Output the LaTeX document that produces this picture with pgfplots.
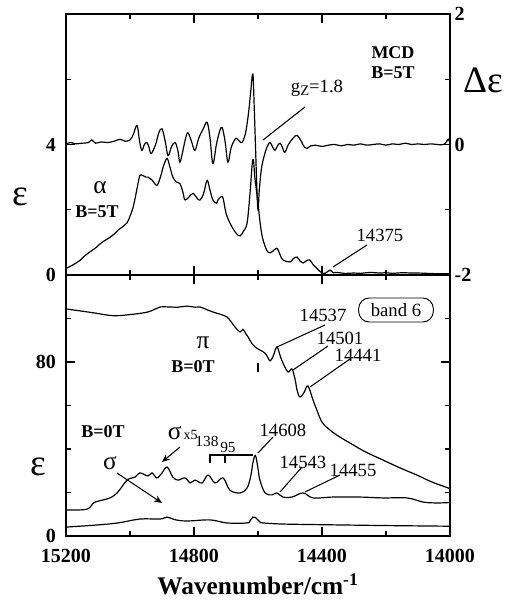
\documentclass[border=0pt]{standalone}
\usepackage{fontspec}
\setmainfont{Liberation Serif}
\usepackage{pgfplots}
\pgfplotsset{compat=1.18}
\usetikzlibrary{arrows.meta}

\newcommand{\fs}[1]{\fontsize{#1}{#1}\selectfont}

\pgfplotsset{
  common/.style={
    scale only axis, width=288pt, height=195.75pt,
    x dir=reverse, xmin=14000, xmax=15200,
    scaled x ticks=false, scaled y ticks=false,
    tick align=inside,
    major tick length=7pt, minor tick length=4pt,
    every tick/.style={black, line width=1.1pt},
    every minor tick/.style={black, line width=1.1pt},
    axis line style={line width=1.4pt},
    tick label style={font=\fs{15}\bfseries},
    xtick={14000,14400,14800,15200}, minor xtick={14200,14600,15000},
    clip=false,
  },
  curve/.style={black, line width=0.9pt, no marks, smooth, tension=0.6},
}

\begin{document}
\begin{tikzpicture}
\useasboundingbox (-49.5pt,-244.5pt) rectangle (330pt,206.25pt);

% ---------- top panel (alpha, left scale) ----------
\begin{axis}[common, at={(0,0)}, anchor=south west,
  ymin=0, ymax=8, ytick={0,4}, minor ytick={2,6},
  yticklabels={\textbf{0},\textbf{4}},
  ytick pos=left, xtick pos=both, xticklabels={},
  yticklabel style={xshift=-4pt}]
\addplot[curve] table[row sep=\\] {
15200 0.2\\ 15180 0.3\\ 15156 0.45\\ 15140 0.6\\ 15119 0.75\\ 15105 0.85\\
15094 0.95\\ 15080 1.05\\ 15063 1.15\\ 15050 1.25\\ 15038 1.37\\ 15020 1.5\\
15009 1.6\\ 15000 1.8\\ 14991 2.05\\ 14983 2.4\\ 14975 2.8\\ 14969 3.05\\
14960 3.05\\ 14950 3.0\\ 14944 3.0\\ 14930 2.9\\ 14916 2.75\\ 14905 3.0\\
14895 3.35\\ 14884 3.57\\ 14875 3.3\\ 14866 3.0\\ 14855 2.85\\ 14844 2.8\\
14835 2.55\\ 14828 2.3\\ 14815 2.4\\ 14803 2.5\\ 14790 2.35\\ 14781 2.3\\
14770 2.5\\ 14759 2.9\\ 14750 2.6\\ 14741 2.3\\ 14730 2.2\\ 14725 2.3\\
14715 2.4\\ 14709 2.35\\ 14700 1.9\\ 14688 1.6\\ 14670 1.3\\ 14656 1.2\\
14645 1.35\\ 14634 1.6\\ 14625 2.5\\ 14618 3.4\\ 14614 3.5\\ 14610 3.0\\
14605 2.6\\ 14600 2.2\\ 14592 1.5\\ 14584 1.07\\ 14569 0.7\\ 14555 0.72\\
14541 0.82\\ 14530 0.6\\ 14522 0.46\\ 14500 0.4\\ 14490 0.5\\ 14478 0.55\\
14468 0.42\\ 14459 0.37\\ 14448 0.44\\ 14438 0.46\\ 14428 0.32\\ 14416 0.2\\
14400 0.06\\ 14390 0.05\\ 14375 0.15\\ 14365 0.07\\ 14353 0.08\\ 14330 0.05\\
14300 0.06\\ 14280 0.05\\ 14250 0.08\\ 14220 0.06\\ 14200 0.07\\ 14180 0.05\\
14150 0.07\\ 14120 0.06\\ 14100 0.06\\ 14070 0.05\\ 14040 0.04\\ 14000 0.04\\
};
\end{axis}

% ---------- top panel (MCD, right scale) ----------
\begin{axis}[common, at={(0,0)}, anchor=south west,
  ymin=-2, ymax=2, ytick={-2,0,2}, minor ytick={-1,1},
  yticklabels={\textbf{-2},\textbf{0},\textbf{2}},
  axis y line*=right, axis x line=none]
\addplot[curve] table[row sep=\\] {
15200 0.01\\ 15185 0.03\\ 15170 0.01\\ 15150 0.02\\ 15130 0.03\\ 15119 0.07\\
15108 0.02\\ 15090 0.04\\ 15070 0.03\\ 15050 0.05\\ 15031 0.08\\ 15015 0.05\\
15000 0.07\\ 14990 0.15\\ 14978 0.29\\ 14970 0.05\\ 14963 -0.09\\ 14955 0.0\\
14947 0.03\\ 14940 -0.05\\ 14934 -0.14\\ 14920 0.0\\ 14910 0.18\\ 14900 0.24\\
14890 0.05\\ 14881 -0.17\\ 14870 -0.03\\ 14859 0.03\\ 14850 -0.1\\ 14844 -0.27\\
14835 -0.1\\ 14827 0.08\\ 14819 0.18\\ 14808 0.05\\ 14797 -0.09\\ 14785 0.1\\
14770 0.25\\ 14759 0.34\\ 14750 0.1\\ 14741 -0.29\\ 14730 0.0\\ 14720 0.2\\
14712 0.26\\ 14703 0.05\\ 14694 -0.27\\ 14684 -0.05\\ 14672 0.08\\ 14666 0.09\\
14658 0.05\\ 14650 0.03\\ 14640 0.15\\ 14634 0.32\\ 14628 0.55\\ 14622 0.85\\
14616 1.08\\ 14612 0.6\\ 14608 0.0\\ 14604 -0.6\\ 14600 -1.0\\ 14596 -0.7\\
14590 -0.4\\ 14584 -0.24\\ 14575 -0.08\\ 14568 0.0\\ 14562 0.03\\ 14555 -0.03\\
14547 -0.09\\ 14539 -0.02\\ 14531 0.02\\ 14524 -0.04\\ 14516 -0.12\\ 14505 0.0\\
14490 0.1\\ 14478 0.14\\ 14465 0.05\\ 14455 -0.04\\ 14447 -0.06\\ 14435 -0.02\\
14420 -0.01\\ 14400 -0.03\\ 14380 -0.01\\ 14360 0.0\\ 14340 -0.02\\ 14320 0.0\\
14300 -0.01\\ 14280 0.01\\ 14260 -0.01\\ 14240 0.0\\ 14220 0.01\\ 14200 -0.01\\
14180 0.01\\ 14160 0.0\\ 14140 0.02\\ 14120 0.0\\ 14100 0.01\\ 14080 0.0\\
14060 0.01\\ 14040 0.0\\ 14020 0.0\\ 14010 0.05\\ 14005 0.08\\ 14000 0.02\\
};
\end{axis}

% ---------- bottom panel ----------
\begin{axis}[common, at={(0,0)}, anchor=north west,
  ymin=0, ymax=120, ytick={0,80}, minor ytick={20,40,60,100},
  yticklabels={\textbf{0},\textbf{80}},
  ytick pos=both, yticklabel pos=left, xtick pos=both, xticklabel pos=bottom,
  xticklabels={\textbf{14000},\textbf{14400},\textbf{14800},\textbf{15200}},
  yticklabel style={xshift=-4pt},
  xticklabel style={yshift=-6pt},
  xlabel={\fs{19}\bfseries Wavenumber/cm\textsuperscript{-1}},
  xlabel style={yshift=-2pt}]
% pi, B=0T
\addplot[curve] table[row sep=\\] {
15200 104.4\\ 15156 103.5\\ 15109 102.5\\ 15053 101.3\\ 15000 101.8\\
14947 102.9\\ 14922 104.3\\ 14906 105.3\\ 14875 105.3\\ 14850 105.2\\
14822 105.7\\ 14797 105.2\\ 14781 105.3\\ 14759 104.0\\ 14741 103.0\\
14719 102.0\\ 14697 100.7\\ 14684 98.5\\ 14672 96.1\\ 14656 93.8\\
14647 95.0\\ 14638 93.0\\ 14631 91.5\\ 14619 88.5\\ 14609 86.9\\
14594 85.5\\ 14578 84.1\\ 14569 82.0\\ 14562 80.5\\ 14553 82.5\\
14541 86.9\\ 14531 83.0\\ 14522 79.5\\ 14506 75.4\\ 14494 76.8\\
14484 72.0\\ 14478 67.1\\ 14469 63.9\\ 14456 66.0\\ 14444 69.0\\
14428 62.5\\ 14416 57.9\\ 14400 52.4\\ 14375 48.7\\ 14344 45.5\\
14313 42.8\\ 14266 38.8\\ 14209 34.9\\ 14156 31.3\\ 14103 28.0\\
14056 24.8\\ 14006 22.1\\ 14000 21.6\\
};
% sigma x5
\addplot[curve] table[row sep=\\] {
15200 12.0\\ 15156 12.0\\ 15131 12.5\\ 15119 14.3\\ 15109 15.6\\ 15063 17.5\\
15038 20.2\\ 15009 25.7\\ 14984 27.1\\ 14969 29.0\\ 14944 27.6\\ 14931 29.0\\
14916 26.7\\ 14900 29.0\\ 14884 31.7\\ 14866 27.1\\ 14850 25.7\\ 14828 26.7\\
14812 24.4\\ 14797 25.7\\ 14775 24.4\\ 14756 28.0\\ 14734 24.4\\ 14709 26.7\\
14688 21.1\\ 14656 19.8\\ 14634 22.1\\ 14622 28.0\\ 14616 33.6\\ 14608 37.0\\
14600 31.0\\ 14594 25.7\\ 14578 19.8\\ 14556 18.9\\ 14541 19.8\\ 14522 17.9\\
14494 17.9\\ 14459 19.8\\ 14428 17.5\\ 14366 17.9\\ 14281 17.9\\ 14209 17.5\\
14134 17.5\\ 14084 15.6\\ 14041 15.2\\ 14000 15.4\\
};
% sigma
\addplot[curve] table[row sep=\\] {
15200 4.1\\ 15109 5.0\\ 15038 6.0\\ 14969 7.8\\ 14906 7.8\\ 14884 8.7\\
14860 7.5\\ 14822 6.9\\ 14750 7.4\\ 14697 6.0\\ 14634 6.0\\ 14625 7.0\\
14616 8.7\\ 14608 8.5\\ 14594 6.5\\ 14584 6.0\\ 14522 5.5\\ 14400 5.2\\
14200 4.8\\ 14000 4.5\\
};
\end{axis}

% ---------- annotations (image pixel coordinates) ----------
\begin{scope}[x=0.75pt, y=-0.75pt, shift={(-49.5pt,206.25pt)}, line width=0.8pt]
\node at (20,197) {\fs{28}ε};
\node at (100,188) {\fs{19}α};
\node at (97,212) {\fs{13.5}\bfseries B=5T};
\node at (393,53) {\fs{13.5}\bfseries MCD};
\node at (393,73) {\fs{13.5}\bfseries B=5T};
\node at (483,80) {\fs{28}Δε};
\node at (317,88) {\fs{14}g\raisebox{-0.35ex}{\fs{11}Z}=1.8};
\draw (305,107) -- (263,140);
\node at (380,235) {\fs{14}14375};
\draw (367,245) -- (333,267);
\node[draw, rounded corners=8pt, line width=0.7pt, inner sep=2pt, minimum width=56pt, minimum height=18pt] at (396,310) {\fs{14}band 6};
\node at (323,315) {\fs{14}14537};
\draw (325,325) -- (277,347);
\node at (340,338) {\fs{14}14501};
\draw (328,346) -- (293,370);
\node at (358,355) {\fs{14}14441};
\draw (350,359) -- (310,387);
\node at (203,343) {\fs{19}π};
\node at (193,367) {\fs{13.5}\bfseries B=0T};
\draw (258,363) -- (258,372);
\node at (103,432) {\fs{13.5}\bfseries B=0T};
\node[anchor=east, inner sep=0pt] at (182,433) {\fs{19}σ};
\node[anchor=west, inner sep=0pt] at (183,435) {\fs{10.5}x5};
\draw[-{Stealth[length=6pt,width=5pt]}] (180,447) -- (162,462);
\node at (110,463) {\fs{19}σ};
\draw[-{Stealth[length=6pt,width=5pt]}] (117,473) -- (162,503);
\node at (207,441) {\fs{11.5}138};
\node at (228,447) {\fs{11.5}95};
\draw (210,463) -- (210,455) -- (253,455);
\draw (225,455) -- (225,463);
\node at (283,430) {\fs{14}14608};
\draw (273,437) -- (258,453);
\node at (303,462) {\fs{14}14543};
\draw (302,467) -- (280,492);
\node at (353,470) {\fs{14}14455};
\draw (340,475) -- (305,492);
\node at (38,467) {\fs{28}ε};
\end{scope}
\end{tikzpicture}
\end{document}
